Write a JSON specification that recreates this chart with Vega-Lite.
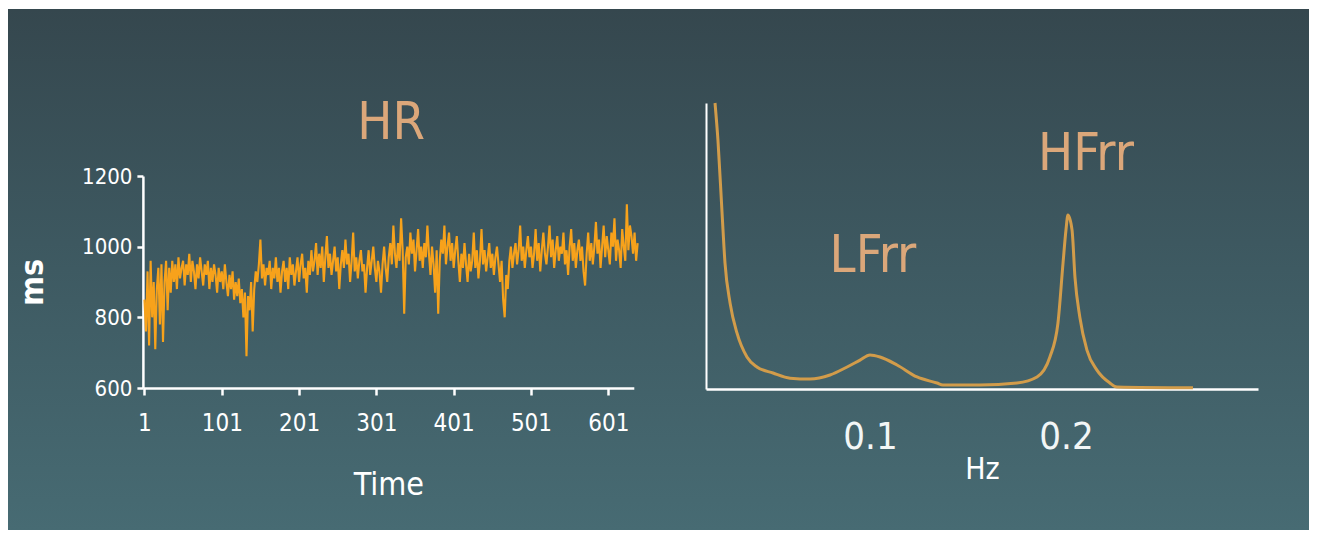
{
  "$schema": "https://vega.github.io/schema/vega-lite/v6.json",
  "width": 1317,
  "height": 538,
  "autosize": {"type": "fit", "contains": "padding"},
  "padding": {"left": 8, "right": 8, "top": 9, "bottom": 8},
  "background": "#ffffff",
  "config": {
    "view": {
      "stroke": null,
      "fill": {
        "gradient": "linear",
        "x1": 0, "y1": 0, "x2": 0, "y2": 1,
        "stops": [
          {"offset": 0, "color": "#35474e"},
          {"offset": 0.5, "color": "#3e5a62"},
          {"offset": 1, "color": "#476b73"}
        ]
      }
    },
    "axis": {
      "grid": false,
      "zindex": 1,
      "domainColor": "#ffffff",
      "tickColor": "#ffffff",
      "labelColor": "#ffffff",
      "titleColor": "#ffffff",
      "labelFont": "Liberation Sans Narrow, Arial Narrow, DejaVu Sans Condensed, Liberation Sans, sans-serif",
      "titleFont": "Liberation Sans Narrow, Arial Narrow, DejaVu Sans Condensed, Liberation Sans, sans-serif",
      "titleFontWeight": "normal"
    }
  },
  "layer": [
    {
      "data": {
        "values": [
          {"t":1,"v":850},{"t":3,"v":760},{"t":5,"v":930},{"t":7,"v":720},{"t":9,"v":960},{"t":11,"v":800},{"t":13,"v":900},{"t":15,"v":710},{"t":17,"v":880},{"t":19,"v":940},
          {"t":21,"v":780},{"t":23,"v":950},{"t":25,"v":730},{"t":27,"v":900},{"t":29,"v":960},{"t":31,"v":820},{"t":33,"v":940},{"t":35,"v":870},{"t":37,"v":960},{"t":39,"v":900},
          {"t":41,"v":950},{"t":43,"v":880},{"t":45,"v":970},{"t":47,"v":910},{"t":49,"v":940},{"t":51,"v":960},{"t":53,"v":890},{"t":55,"v":950},{"t":57,"v":920},{"t":59,"v":980},
          {"t":61,"v":900},{"t":63,"v":960},{"t":65,"v":930},{"t":67,"v":880},{"t":69,"v":950},{"t":71,"v":910},{"t":73,"v":970},{"t":75,"v":930},{"t":77,"v":890},{"t":79,"v":950},
          {"t":81,"v":920},{"t":83,"v":960},{"t":85,"v":880},{"t":87,"v":940},{"t":89,"v":900},{"t":91,"v":950},{"t":93,"v":920},{"t":95,"v":870},{"t":97,"v":940},{"t":99,"v":900},
          {"t":101,"v":930},{"t":103,"v":880},{"t":105,"v":950},{"t":107,"v":900},{"t":109,"v":860},{"t":111,"v":920},{"t":113,"v":880},{"t":115,"v":930},{"t":117,"v":850},{"t":119,"v":900},
          {"t":121,"v":860},{"t":123,"v":910},{"t":125,"v":840},{"t":127,"v":880},{"t":129,"v":800},{"t":131,"v":870},{"t":133,"v":690},{"t":135,"v":860},{"t":137,"v":820},{"t":139,"v":900},
          {"t":141,"v":760},{"t":143,"v":880},{"t":145,"v":930},{"t":147,"v":900},{"t":149,"v":950},{"t":151,"v":1020},{"t":153,"v":910},{"t":155,"v":950},{"t":157,"v":890},{"t":159,"v":940},
          {"t":161,"v":920},{"t":163,"v":960},{"t":165,"v":880},{"t":167,"v":940},{"t":169,"v":910},{"t":171,"v":970},{"t":173,"v":900},{"t":175,"v":940},{"t":177,"v":870},{"t":179,"v":930},
          {"t":181,"v":960},{"t":183,"v":900},{"t":185,"v":940},{"t":187,"v":880},{"t":189,"v":970},{"t":191,"v":920},{"t":193,"v":950},{"t":195,"v":890},{"t":197,"v":930},{"t":199,"v":970},
          {"t":201,"v":900},{"t":203,"v":950},{"t":205,"v":980},{"t":207,"v":910},{"t":209,"v":940},{"t":211,"v":870},{"t":213,"v":960},{"t":215,"v":920},{"t":217,"v":990},{"t":219,"v":930},
          {"t":221,"v":960},{"t":223,"v":1010},{"t":225,"v":920},{"t":227,"v":980},{"t":229,"v":940},{"t":231,"v":1000},{"t":233,"v":900},{"t":235,"v":970},{"t":237,"v":1030},{"t":239,"v":940},
          {"t":241,"v":980},{"t":243,"v":920},{"t":245,"v":960},{"t":247,"v":1000},{"t":249,"v":930},{"t":251,"v":970},{"t":253,"v":880},{"t":255,"v":950},{"t":257,"v":990},{"t":259,"v":940},
          {"t":261,"v":1020},{"t":263,"v":950},{"t":265,"v":980},{"t":267,"v":900},{"t":269,"v":960},{"t":271,"v":1040},{"t":273,"v":930},{"t":275,"v":970},{"t":277,"v":910},{"t":279,"v":960},
          {"t":281,"v":990},{"t":283,"v":930},{"t":285,"v":950},{"t":287,"v":870},{"t":289,"v":940},{"t":291,"v":990},{"t":293,"v":920},{"t":295,"v":960},{"t":297,"v":1000},{"t":299,"v":940},
          {"t":301,"v":900},{"t":303,"v":960},{"t":305,"v":930},{"t":307,"v":870},{"t":309,"v":950},{"t":311,"v":1000},{"t":313,"v":940},{"t":315,"v":900},{"t":317,"v":970},{"t":319,"v":1010},
          {"t":321,"v":950},{"t":323,"v":1060},{"t":325,"v":980},{"t":327,"v":940},{"t":329,"v":1010},{"t":331,"v":960},{"t":333,"v":1080},{"t":335,"v":990},{"t":337,"v":810},{"t":339,"v":970},
          {"t":341,"v":1000},{"t":343,"v":950},{"t":345,"v":1040},{"t":347,"v":980},{"t":349,"v":1020},{"t":351,"v":930},{"t":353,"v":990},{"t":355,"v":1050},{"t":357,"v":960},{"t":359,"v":1000},
          {"t":361,"v":940},{"t":363,"v":1010},{"t":365,"v":970},{"t":367,"v":1060},{"t":369,"v":980},{"t":371,"v":920},{"t":373,"v":1000},{"t":375,"v":950},{"t":377,"v":870},{"t":379,"v":990},
          {"t":381,"v":810},{"t":383,"v":960},{"t":385,"v":1020},{"t":387,"v":980},{"t":389,"v":1060},{"t":391,"v":950},{"t":393,"v":1000},{"t":395,"v":1040},{"t":397,"v":960},{"t":399,"v":1010},
          {"t":401,"v":940},{"t":403,"v":990},{"t":405,"v":1030},{"t":407,"v":960},{"t":409,"v":900},{"t":411,"v":980},{"t":413,"v":940},{"t":415,"v":1010},{"t":417,"v":950},{"t":419,"v":900},
          {"t":421,"v":980},{"t":423,"v":930},{"t":425,"v":960},{"t":427,"v":1040},{"t":429,"v":940},{"t":431,"v":990},{"t":433,"v":910},{"t":435,"v":960},{"t":437,"v":1050},{"t":439,"v":950},
          {"t":441,"v":990},{"t":443,"v":930},{"t":445,"v":970},{"t":447,"v":1010},{"t":449,"v":940},{"t":451,"v":980},{"t":453,"v":920},{"t":455,"v":970},{"t":457,"v":1000},{"t":459,"v":950},
          {"t":461,"v":900},{"t":463,"v":960},{"t":465,"v":850},{"t":467,"v":800},{"t":469,"v":920},{"t":471,"v":880},{"t":473,"v":960},{"t":475,"v":1000},{"t":477,"v":940},{"t":479,"v":980},
          {"t":481,"v":1010},{"t":483,"v":950},{"t":485,"v":990},{"t":487,"v":1060},{"t":489,"v":960},{"t":491,"v":1000},{"t":493,"v":940},{"t":495,"v":990},{"t":497,"v":1030},{"t":499,"v":970},
          {"t":501,"v":1000},{"t":503,"v":940},{"t":505,"v":980},{"t":507,"v":1050},{"t":509,"v":960},{"t":511,"v":1010},{"t":513,"v":930},{"t":515,"v":990},{"t":517,"v":1040},{"t":519,"v":980},
          {"t":521,"v":950},{"t":523,"v":1000},{"t":525,"v":1060},{"t":527,"v":970},{"t":529,"v":1020},{"t":531,"v":940},{"t":533,"v":990},{"t":535,"v":1030},{"t":537,"v":960},{"t":539,"v":1000},
          {"t":541,"v":980},{"t":543,"v":1040},{"t":545,"v":950},{"t":547,"v":990},{"t":549,"v":920},{"t":551,"v":1000},{"t":553,"v":1050},{"t":555,"v":960},{"t":557,"v":1010},{"t":559,"v":940},
          {"t":561,"v":990},{"t":563,"v":1020},{"t":565,"v":960},{"t":567,"v":1000},{"t":569,"v":930},{"t":571,"v":890},{"t":573,"v":980},{"t":575,"v":1040},{"t":577,"v":960},{"t":579,"v":1010},
          {"t":581,"v":950},{"t":583,"v":1000},{"t":585,"v":1070},{"t":587,"v":980},{"t":589,"v":1020},{"t":591,"v":940},{"t":593,"v":1000},{"t":595,"v":1060},{"t":597,"v":970},{"t":599,"v":1030},
          {"t":601,"v":990},{"t":603,"v":950},{"t":605,"v":1040},{"t":607,"v":1000},{"t":609,"v":1080},{"t":611,"v":960},{"t":613,"v":1020},{"t":615,"v":990},{"t":617,"v":940},{"t":619,"v":1050},
          {"t":621,"v":1000},{"t":623,"v":960},{"t":625,"v":1120},{"t":627,"v":990},{"t":629,"v":1060},{"t":631,"v":1030},{"t":633,"v":980},{"t":635,"v":1040},{"t":637,"v":960},{"t":639,"v":1010}
        ]
      },
      "layer": [
        {
          "mark": {"type": "line", "color": "#f7a21b", "strokeWidth": 2.1},
          "encoding": {
            "x": {
              "field": "t", "type": "quantitative",
              "scale": {"domain": [-1, 634], "range": [134.9, 625.8], "nice": false, "zero": false},
              "axis": {
                "orient": "bottom", "offset": -142,
                "values": [1, 101, 201, 301, 401, 501, 601],
                "format": "d",
                "domainWidth": 2.5, "tickWidth": 2.5, "tickSize": 7,
                "labelFontSize": 24, "labelPadding": 16,
                "title": "Time", "titleFontSize": 32,
                "titleBaseline": "alphabetic", "titleY": 106
              }
            },
            "y": {
              "field": "v", "type": "quantitative",
              "scale": {"domain": [600, 1200], "range": [379, 167], "nice": false, "zero": false},
              "axis": {
                "orient": "left", "offset": -134.9,
                "values": [600, 800, 1000, 1200],
                "format": "d",
                "domainWidth": 2.5, "tickWidth": 2.5, "tickSize": 6,
                "labelFontSize": 22, "labelPadding": 5,
                "title": "ms", "titleFontSize": 32, "titleFontWeight": "bold",
                "titleBaseline": "alphabetic", "titleX": -100
              }
            }
          }
        },
        {
          "data": {"values": [{}]},
          "mark": {
            "type": "text", "text": "HR", "color": "#dba77a",
            "font": "Liberation Sans Narrow, Arial Narrow, DejaVu Sans Condensed, Liberation Sans, sans-serif",
            "fontSize": 52, "align": "center", "baseline": "middle"
          },
          "encoding": {
            "x": {"datum": 320, "type": "quantitative"},
            "y": {"datum": 1349, "type": "quantitative"}
          }
        }
      ]
    },
    {
      "data": {
        "values": [
          {"hz":0.0209,"p":100},{"hz":0.0224,"p":87},{"hz":0.0245,"p":61.5},{"hz":0.0260,"p":44},{"hz":0.0286,"p":30},
          {"hz":0.0321,"p":19.6},{"hz":0.0372,"p":11.2},{"hz":0.0423,"p":7.7},{"hz":0.0505,"p":5.6},{"hz":0.0592,"p":3.8},
          {"hz":0.0694,"p":3.5},{"hz":0.0796,"p":4.9},{"hz":0.0883,"p":7.7},{"hz":0.0949,"p":10.1},{"hz":0.1000,"p":11.9},
          {"hz":0.1051,"p":11.2},{"hz":0.1138,"p":8.4},{"hz":0.1240,"p":4.2},{"hz":0.1342,"p":2.1},{"hz":0.1372,"p":1.4},
          {"hz":0.1561,"p":1.4},{"hz":0.1750,"p":2.1},{"hz":0.1852,"p":4.2},{"hz":0.1918,"p":11.2},{"hz":0.1959,"p":23},
          {"hz":0.1985,"p":44},{"hz":0.2000,"p":55.6},{"hz":0.2010,"p":60.8},{"hz":0.2031,"p":55.6},{"hz":0.2046,"p":39},
          {"hz":0.2071,"p":25},{"hz":0.2107,"p":13.6},{"hz":0.2158,"p":6.6},{"hz":0.2224,"p":2.1},{"hz":0.2260,"p":0.7},
          {"hz":0.2648,"p":0.4}
        ]
      },
      "layer": [
        {
          "mark": {"type": "line", "color": "#d29c4a", "strokeWidth": 3, "interpolate": "monotone"},
          "encoding": {
            "x": {
              "field": "hz", "type": "quantitative",
              "scale": {"domain": [0.0163, 0.298], "range": [698, 1250], "nice": false, "zero": false},
              "axis": {
                "orient": "bottom", "offset": -141,
                "values": [0.1, 0.2], "format": ".1f",
                "domainWidth": 2.5, "ticks": false, "tickSize": 0,
                "labelFontSize": 38, "labelPadding": 29, "labelColor": "#f2f6f6",
                "title": "Hz", "titleFontSize": 30,
                "titleBaseline": "alphabetic", "titleY": 89
              }
            },
            "y": {
              "field": "p", "type": "quantitative",
              "scale": {"domain": [0, 100], "range": [380, 94], "nice": false, "zero": false},
              "axis": {
                "orient": "left", "offset": -698,
                "domainWidth": 2, "ticks": false, "labels": false, "title": null
              }
            }
          }
        },
        {
          "data": {"values": [{}]},
          "mark": {
            "type": "text", "text": "LFrr", "color": "#dba77a",
            "font": "Liberation Sans Narrow, Arial Narrow, DejaVu Sans Condensed, Liberation Sans, sans-serif",
            "fontSize": 52, "align": "center", "baseline": "middle"
          },
          "encoding": {
            "x": {"datum": 0.1015, "type": "quantitative"},
            "y": {"datum": 46.5, "type": "quantitative"}
          }
        },
        {
          "data": {"values": [{}]},
          "mark": {
            "type": "text", "text": "HFrr", "color": "#dba77a",
            "font": "Liberation Sans Narrow, Arial Narrow, DejaVu Sans Condensed, Liberation Sans, sans-serif",
            "fontSize": 52, "align": "center", "baseline": "middle"
          },
          "encoding": {
            "x": {"datum": 0.2102, "type": "quantitative"},
            "y": {"datum": 82.2, "type": "quantitative"}
          }
        }
      ]
    }
  ],
  "resolve": {
    "scale": {"x": "independent", "y": "independent"},
    "axis": {"x": "independent", "y": "independent"}
  }
}
